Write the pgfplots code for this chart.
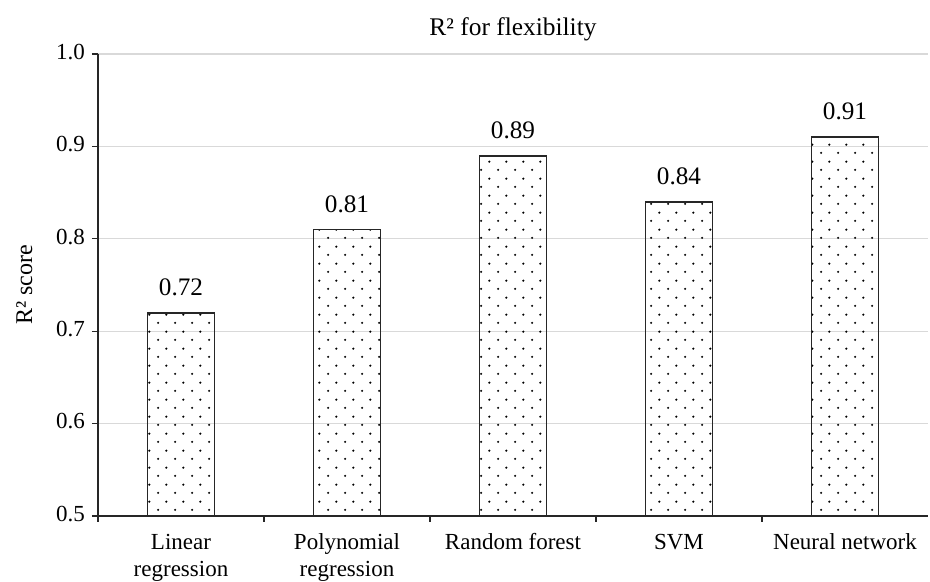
\documentclass[border=0pt]{standalone}
\usepackage{fontspec}
\setmainfont{Liberation Serif}
\usepackage{pgfplots}
\pgfplotsset{compat=1.18}
\usetikzlibrary{patterns}

% sparse staggered dot fill used for the bars
\pgfdeclarepatternformonly{sparsedots}{\pgfqpoint{0pt}{0pt}}{\pgfqpoint{8.6pt}{8.6pt}}{\pgfqpoint{8.6pt}{8.6pt}}{%
  \pgfpathcircle{\pgfqpoint{2.15pt}{2.15pt}}{0.62pt}%
  \pgfpathcircle{\pgfqpoint{6.45pt}{6.45pt}}{0.62pt}%
  \pgfusepath{fill}%
}

\begin{document}
\begin{tikzpicture}[font=\fontsize{11.5}{13.5}\selectfont]
\useasboundingbox (-49pt,-33pt) rectangle (416pt,258pt);
\begin{axis}[
  at={(0,0)}, anchor=south west,
  scale only axis, width=415pt, height=231pt,
  xmin=-0.5, xmax=4.5, ymin=0.5, ymax=1.0,
  axis x line*=bottom, axis y line*=left,
  axis line style={-, black!85, line width=0.6pt},
  tick align=outside,
  xtick={0,1,2,3,4},
  xticklabels={{Linear\\regression},{Polynomial\\regression},{Random forest},{SVM},{Neural network}},
  typeset ticklabels with strut,
  xticklabel style={align=center, yshift=-0.7pt},
  minor xtick={-0.5,0.5,1.5,2.5,3.5},
  major x tick style={draw=none},
  minor x tick style={black!85, line width=0.6pt},
  minor tick length=3pt,
  ytick={0.5,0.6,0.7,0.8,0.9,1.0},
  y tick style={black!85, line width=0.6pt},
  major tick length=3pt,
  /pgf/number format/assume math mode=true,
  yticklabel style={/pgf/number format/fixed, /pgf/number format/fixed zerofill, /pgf/number format/precision=1},
  ymajorgrids,
  major grid style={gray!30, line width=0.6pt},
  ylabel={R² score},
  ylabel style={font=\fontsize{12}{14}\selectfont},
  ylabel shift=5pt,
  title={R² for flexibility},
  title style={font=\fontsize{12.7}{15}\selectfont, yshift=-3pt},
  ybar, bar width=33.5pt,
  nodes near coords,
  nodes near coords style={/pgf/number format/fixed, /pgf/number format/fixed zerofill, /pgf/number format/precision=2},
  every node near coord/.append style={anchor=south, inner sep=0pt, yshift=8pt, black, font=\fontsize{12.6}{15}\selectfont},
]
\addplot[draw=black!85, line width=0.9pt, pattern=sparsedots, pattern color=black]
  coordinates {(0,0.72) (1,0.81) (2,0.89) (3,0.84) (4,0.91)};
\end{axis}
\end{tikzpicture}
\end{document}
